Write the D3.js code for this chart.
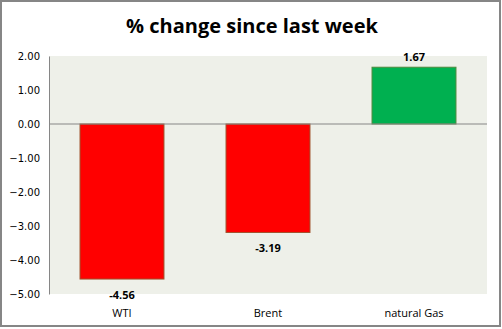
<!DOCTYPE html>
<html>
<head>
<meta charset="utf-8">
<script src="https://cdn.jsdelivr.net/npm/d3@7"></script>
<style>
  html, body { margin: 0; padding: 0; background: #fff; }
  svg { display: block; }
</style>
</head>
<body>
<div id="chart"></div>
<script>
// chart data
const categories = ['WTI', 'Brent', 'natural Gas'];
const values = [-4.56, -3.19, 1.67];
const yTicks = [2, 1, 0, -1, -2, -3, -4, -5];
const titleText = '% change since last week';

const width = 502, height = 329;
const plot = { left: 49, right: 487, top: 56, bottom: 294 };

const svg = d3.select('#chart').append('svg')
  .attr('width', width)
  .attr('height', height);

// outer frame
svg.append('rect')
  .attr('x', 1).attr('y', 1)
  .attr('width', width - 3).attr('height', height - 4)
  .attr('fill', '#fff')
  .attr('stroke', '#868686')
  .attr('stroke-width', 2);

// title
svg.append('text')
  .attr('x', 252).attr('y', 33)
  .attr('text-anchor', 'middle')
  .style('font-family', '"Open Sans", "Noto Sans", sans-serif')
  .style('font-size', '20px')
  .style('font-weight', '700')
  .style('fill', '#000')
  .text(titleText);

const x = d3.scaleBand()
  .domain(categories)
  .range([plot.left, plot.right])
  .paddingInner(0.425)
  .paddingOuter(0.2125);

const y = d3.scaleLinear()
  .domain([-5, 2])
  .range([plot.bottom, plot.top]);

// plot background
svg.append('rect')
  .attr('x', plot.left).attr('y', plot.top)
  .attr('width', plot.right - plot.left)
  .attr('height', plot.bottom - plot.top)
  .attr('fill', '#eef0e9');

// y axis
const yAxis = svg.append('g')
  .attr('transform', `translate(${plot.left},0)`)
  .call(d3.axisLeft(y).tickValues(yTicks).tickFormat(d3.format('.2f')).tickSize(0).tickPadding(9));
yAxis.select('.domain').attr('stroke', '#868686');
yAxis.selectAll('text')
  .style('font-family', '"DejaVu Sans", Verdana, sans-serif')
  .style('font-size', '10px')
  .style('fill', '#000');

// bars
svg.append('g').selectAll('rect')
  .data(values)
  .join('rect')
  .attr('x', (d, i) => x(categories[i]))
  .attr('width', x.bandwidth())
  .attr('y', d => y(Math.max(0, d)))
  .attr('height', d => Math.abs(y(d) - y(0)))
  .attr('fill', d => d < 0 ? '#ff0000' : '#00b050')
  .attr('stroke', d => d < 0 ? '#a0522d' : '#4e8a3e')
  .attr('stroke-width', 1);

// zero line
svg.append('line')
  .attr('x1', plot.left).attr('x2', plot.right)
  .attr('y1', y(0)).attr('y2', y(0))
  .attr('stroke', '#868686')
  .attr('stroke-width', 1);

// value labels
svg.append('g').selectAll('text')
  .data(values)
  .join('text')
  .attr('x', (d, i) => x(categories[i]) + x.bandwidth() / 2)
  .attr('y', d => d < 0 ? y(d) + 20 : y(d) - 6)
  .attr('text-anchor', 'middle')
  .style('font-family', '"Open Sans", "Noto Sans", sans-serif')
  .style('font-size', '11px')
  .style('font-weight', '700')
  .style('fill', '#000')
  .text(d => d.toFixed(2));

// category labels
svg.append('g').selectAll('text')
  .data(categories)
  .join('text')
  .attr('x', d => x(d) + x.bandwidth() / 2)
  .attr('y', 317)
  .attr('text-anchor', 'middle')
  .style('font-family', '"Open Sans", "Noto Sans", sans-serif')
  .style('font-size', '11px')
  .style('fill', '#000')
  .text(d => d);
</script>
</body>
</html>
